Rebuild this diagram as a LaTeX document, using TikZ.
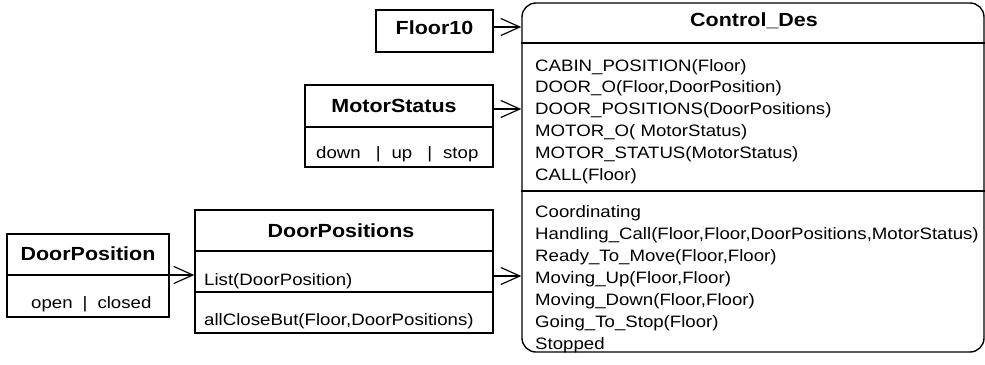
\documentclass[tikz,border=0pt]{standalone}
\usepackage{fontspec}
\setmainfont{Liberation Sans}[FakeStretch=1.13]
\usetikzlibrary{arrows.meta}
\tikzset{
  box/.style={draw, line width=1.4pt, rectangle, inner sep=0pt},
  rbox/.style={draw, line width=1.4pt, rectangle, rounded corners=14bp, inner sep=0pt},
  divider/.style={line width=1.4pt},
  ttl/.style={anchor=base, inner sep=0pt, font=\fontsize{19bp}{22bp}\selectfont\bfseries},
  txt/.style={anchor=base west, inner sep=0pt, font=\fontsize{16.5bp}{20bp}\selectfont},
  ctxt/.style={anchor=base, inner sep=0pt, font=\fontsize{16.5bp}{20bp}\selectfont},
  arr/.style={line width=1.2pt, -{Straight Barb[length=19bp,width=17bp,line width=1.2pt]}}
}
\begin{document}
\begin{tikzpicture}[x=1bp,y=-1bp]
\useasboundingbox (0,0) rectangle (985,364);
% Floor10
\node[box, minimum width=117bp, minimum height=42bp] (fl) at (434.5,31) {};
\node[ttl] (flt) at (434.5,34) {Floor10};
% MotorStatus
\node[box, minimum width=188bp, minimum height=82bp] (ms) at (399,126) {};
\draw[divider] (ms.west |- 0,127) -- (ms.east |- 0,127);
\node[ttl] (mst) at (394,112) {MotorStatus};
\node[txt] (msv) at (316,158) {down\hspace{15bp}|\hspace{11bp}up\hspace{15bp}|\hspace{11bp}stop};
% DoorPosition
\node[box, minimum width=162bp, minimum height=83bp] (dp) at (88,275.5) {};
\draw[divider] (dp.west |- 0,275) -- (dp.east |- 0,275);
\node[ttl] (dpt) at (88,260) {DoorPosition};
\node[txt] (dpv) at (31,308) {open\hspace{10bp}|\hspace{10bp}closed};
% DoorPositions
\node[box, minimum width=298bp, minimum height=123bp] (dps) at (344,271.5) {};
\draw[divider] (dps.west |- 0,251) -- (dps.east |- 0,251);
\draw[divider] (dps.west |- 0,292) -- (dps.east |- 0,292);
\node[ttl] (dpst) at (341,237) {DoorPositions};
\node[txt] (dpsa) at (204,285) {List(DoorPosition)};
\node[txt] (dpsb) at (204,325) {allCloseBut(Floor,DoorPositions)};
% Control_Des
\node[rbox, minimum width=462bp, minimum height=349bp] (cd) at (753,177.5) {};
\draw[divider] (cd.west |- 0,43) -- (cd.east |- 0,43);
\draw[divider] (cd.west |- 0,191) -- (cd.east |- 0,191);
\node[ttl] (cdt) at (754,26) {Control\_Des};
\node[txt] (c1) at (535,71) {CABIN\_POSITION(Floor)};
\node[txt] (c2) at (535,92.8) {DOOR\_O(Floor,DoorPosition)};
\node[txt] (c3) at (535,114.6) {DOOR\_POSITIONS(DoorPositions)};
\node[txt] (c4) at (535,136.4) {MOTOR\_O( MotorStatus)};
\node[txt] (c5) at (535,158.2) {MOTOR\_STATUS(MotorStatus)};
\node[txt] (c6) at (535,180) {CALL(Floor)};
\node[txt] (d1) at (535,217.3) {Coordinating};
\node[txt] (d2) at (535,239.4) {Handling\_Call(Floor,Floor,DoorPositions,MotorStatus)};
\node[txt] (d3) at (535,261.5) {Ready\_To\_Move(Floor,Floor)};
\node[txt] (d4) at (535,283.6) {Moving\_Up(Floor,Floor)};
\node[txt] (d5) at (535,305.7) {Moving\_Down(Floor,Floor)};
\node[txt] (d6) at (535,327.8) {Going\_To\_Stop(Floor)};
\node[txt] (d7) at (535,349.9) {Stopped};
% connectors
\draw[arr] (fl.east |- 0,27) -- (cd.west |- 0,27);
\draw[arr] (ms.east |- 0,109) -- (cd.west |- 0,109);
\draw[arr] (dp.east |- 0,275) -- (dps.west |- 0,275);
\draw[arr] (dps.east |- 0,276) -- (cd.west |- 0,276);
\end{tikzpicture}
\end{document}
